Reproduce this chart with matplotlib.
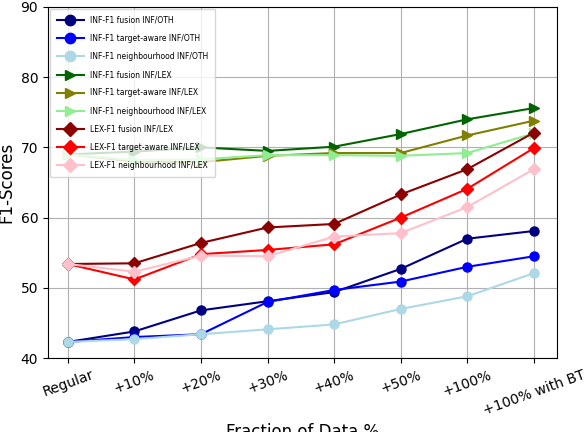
import matplotlib
matplotlib.use("Agg")
import matplotlib.pyplot as plt

fractions = ["Regular", "+10%", "+20%", "+30%", "+40%", "+50%", "+100%", "+100% with BT"]

inf_fusion_oth = [42.3, 43.8, 46.8, 48.1, 49.4, 52.7, 57.0, 58.1]
inf_target_oth = [42.3, 43.0, 43.4, 48.0, 49.7, 50.9, 53.0, 54.5]
inf_neigh_oth = [42.3, 42.7, 43.4, 44.1, 44.8, 47.0, 48.8, 52.1]

inf_fusion_lex = [69.0, 69.4, 70.0, 69.5, 70.1, 71.9, 74.0, 75.6]
inf_target_lex = [69.0, 68.0, 67.9, 68.8, 69.2, 69.2, 71.7, 73.8]
inf_neigh_lex = [69.0, 68.2, 68.3, 68.9, 68.9, 68.8, 69.2, 72.0]

lex_fusion_lex = [53.4, 53.5, 56.4, 58.6, 59.1, 63.3, 66.9, 72.1]
lex_target_lex = [53.4, 51.2, 54.8, 55.4, 56.2, 60.0, 64.1, 69.9]
lex_neigh_lex = [53.4, 52.3, 54.6, 54.5, 57.3, 57.8, 61.5, 66.9]

series = [
    ("INF-F1 fusion INF/OTH", inf_fusion_oth, "navy", "o"),
    ("INF-F1 target-aware INF/OTH", inf_target_oth, "blue", "o"),
    ("INF-F1 neighbourhood INF/OTH", inf_neigh_oth, "lightblue", "o"),
    ("INF-F1 fusion INF/LEX", inf_fusion_lex, "darkgreen", ">"),
    ("INF-F1 target-aware INF/LEX", inf_target_lex, "olive", ">"),
    ("INF-F1 neighbourhood INF/LEX", inf_neigh_lex, "lightgreen", ">"),
    ("LEX-F1 fusion INF/LEX", lex_fusion_lex, "darkred", "D"),
    ("LEX-F1 target-aware INF/LEX", lex_target_lex, "red", "D"),
    ("LEX-F1 neighbourhood INF/LEX", lex_neigh_lex, "pink", "D"),
]

fig = plt.figure(figsize=(5.84, 4.32), dpi=100)
ax = fig.add_axes([0.082, 0.171, 0.872, 0.813])

x = range(len(fractions))
for label, vals, color, marker in series:
    ax.plot(x, vals, color=color, marker=marker, markersize=6.5, linewidth=1.5, label=label)

ax.set_xticks(list(x))
ax.set_xticklabels(fractions, rotation=20)
ax.set_ylim(40, 90)
ax.set_xlim(-0.3, 7.35)
ax.set_xlabel("Fraction of Data %", fontsize=12)
ax.set_ylabel("F1-Scores", fontsize=12)
ax.grid(True)

ax.legend(loc="upper left", fontsize=5.5, labelspacing=1.2, handlelength=3.6,
          markerscale=1.15, borderpad=0.9, borderaxespad=0.25)

fig.savefig("out.png", dpi=100)
